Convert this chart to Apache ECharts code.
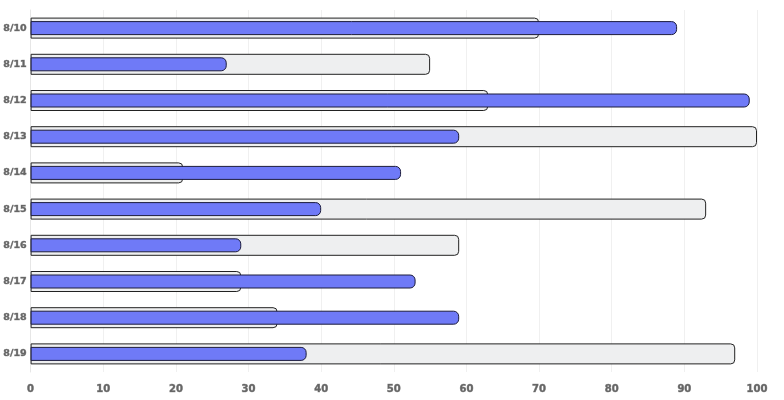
<!DOCTYPE html>
<html>
<head>
<meta charset="utf-8">
<script src="https://cdn.jsdelivr.net/npm/echarts@6/dist/echarts.min.js"></script>
<style>
  html, body { margin: 0; padding: 0; background: #fff; }
  #main { width: 784px; height: 400px; }
</style>
</head>
<body>
<div id="main"></div>
<script>
var days = ["8/10", "8/11", "8/12", "8/13", "8/14", "8/15", "8/16", "8/17", "8/18", "8/19"];
var backValues = [70, 55, 63, 100, 21, 93, 59, 29, 34, 97];
var frontValues = [89, 27, 99, 59, 51, 40, 29, 53, 59, 38];
var xTicks = [0, 10, 20, 30, 40, 50, 60, 70, 80, 90, 100];

var chart = echarts.init(document.getElementById("main"));

var labelStyle = {
    color: "#666",
    fontFamily: "DejaVu Sans",
    fontWeight: "bold",
    fontSize: 10,
    textBorderColor: "#999",
    textBorderWidth: 0.6
};

// two category axes on the same grid so each bar is centred on its row
chart.setOption({
    animation: false,
    grid: { left: 28, right: 27, top: 10, bottom: 28, containLabel: false },
    xAxis: {
        type: "value",
        min: xTicks[0],
        max: xTicks[xTicks.length - 1],
        interval: 10,
        axisLine: { show: false },
        axisTick: { show: false },
        splitLine: { show: true, lineStyle: { color: "#f0f0f0", width: 1 } },
        axisLabel: Object.assign({ margin: 12 }, labelStyle)
    },
    yAxis: [
        {
            type: "category",
            data: days,
            inverse: true,
            axisLine: { show: true, lineStyle: { color: "#e6e6e6" } },
            axisTick: { show: false },
            axisLabel: Object.assign({ margin: 4 }, labelStyle, { fontSize: 9.5 })
        },
        {
            type: "category",
            data: days,
            inverse: true,
            position: "left",
            show: false
        }
    ],
    series: [
        {
            type: "bar",
            yAxisIndex: 0,
            data: backValues,
            barWidth: 21,
            z: 1,
            itemStyle: {
                color: "#eeeff0",
                borderColor: "#222",
                borderWidth: 1,
                borderRadius: [0, 4, 4, 0]
            }
        },
        {
            type: "bar",
            yAxisIndex: 1,
            data: frontValues,
            barWidth: 14,
            z: 2,
            itemStyle: {
                color: "#6f7af7",
                borderColor: "#1c1c3c",
                borderWidth: 1,
                borderRadius: [0, 5, 5, 0]
            }
        }
    ]
});
</script>
</body>
</html>
